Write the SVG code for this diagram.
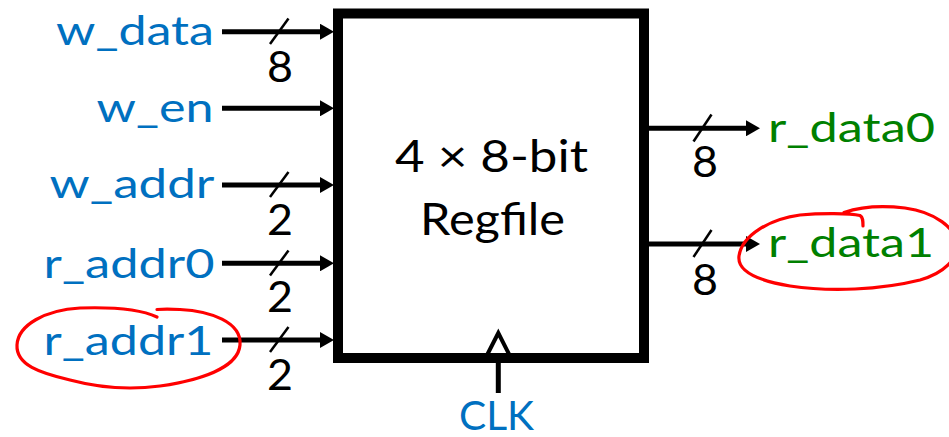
<svg xmlns="http://www.w3.org/2000/svg" width="949" height="437" viewBox="0 0 949 437">
  <style>
    .lbl { font-family: Lato, "Liberation Sans", sans-serif; font-size: 41px; }
    .in { fill: #0070C0; }
    .out { fill: #008000; }
    .num { font-family: Lato, "Liberation Sans", sans-serif; font-size: 42px; fill: #000; }
    .box { font-family: Lato, "Liberation Sans", sans-serif; font-size: 45px; fill: #000; }
    .wire { stroke: #000; stroke-width: 5; fill: none; }
    .slash { stroke: #000; stroke-width: 2.5; fill: none; }
    .ink { stroke: #FF0000; stroke-width: 3.2; fill: none; stroke-linecap: round; stroke-linejoin: round; }
  </style>
  <defs>
    <marker id="arrow" viewBox="0 0 14 16" refX="0" refY="8" markerWidth="14" markerHeight="16" markerUnits="userSpaceOnUse" orient="auto">
      <path d="M0,0 L14,8 L0,16 Z" fill="#000"/>
    </marker>
  </defs>
  <rect width="949" height="437" fill="#fff"/>

  <g id="regfile">
    <rect x="338" y="13.5" width="306" height="344.5" fill="#fff" stroke="#000" stroke-width="10"/>
    <text class="box" x="395" y="171.7" textLength="193" lengthAdjust="spacingAndGlyphs">4 × 8-bit</text>
    <text class="box" x="420" y="235" textLength="145" lengthAdjust="spacingAndGlyphs">Regfile</text>
    <polyline points="483.5,362 498.3,333 513,362" fill="none" stroke="#000" stroke-width="4"/>
  </g>

  <g id="w_data"><text class="lbl in" x="56" y="45" textLength="158" lengthAdjust="spacingAndGlyphs">w_data</text></g>
  <g id="w_en"><text class="lbl in" x="96.5" y="121.7" textLength="117" lengthAdjust="spacingAndGlyphs">w_en</text></g>
  <g id="w_addr"><text class="lbl in" x="49.5" y="198" textLength="165" lengthAdjust="spacingAndGlyphs">w_addr</text></g>
  <g id="r_addr0"><text class="lbl in" x="43.5" y="278.3" textLength="171" lengthAdjust="spacingAndGlyphs">r_addr0</text></g>
  <g id="r_addr1"><text class="lbl in" x="43.5" y="355" textLength="170" lengthAdjust="spacingAndGlyphs">r_addr1</text></g>
  <g id="r_data0"><text class="lbl out" x="768" y="141.7" textLength="167" lengthAdjust="spacingAndGlyphs">r_data0</text></g>
  <g id="r_data1"><text class="lbl out" x="768" y="256.7" textLength="166" lengthAdjust="spacingAndGlyphs">r_data1</text></g>
  <g id="clk"><text class="lbl in" x="459" y="429.5" font-size="42" textLength="75" lengthAdjust="spacingAndGlyphs">CLK</text></g>

  <g id="connectors">
    <line class="wire" x1="222" y1="31.7" x2="320" y2="31.7" marker-end="url(#arrow)"/>
    <line class="wire" x1="222" y1="108.3" x2="320" y2="108.3" marker-end="url(#arrow)"/>
    <line class="wire" x1="222" y1="185" x2="320" y2="185" marker-end="url(#arrow)"/>
    <line class="wire" x1="222" y1="263.3" x2="320" y2="263.3" marker-end="url(#arrow)"/>
    <line class="wire" x1="222" y1="340" x2="320" y2="340" marker-end="url(#arrow)"/>
    <line class="wire" x1="649" y1="128.3" x2="746" y2="128.3" marker-end="url(#arrow)"/>
    <line class="wire" x1="649" y1="244" x2="746" y2="244" marker-end="url(#arrow)"/>
    <line class="wire" x1="498.3" y1="363" x2="498.3" y2="393"/>

    <line class="slash" x1="270" y1="44" x2="288.5" y2="18.5"/>
    <line class="slash" x1="270" y1="197" x2="288.5" y2="172"/>
    <line class="slash" x1="270" y1="275.5" x2="288.5" y2="250.5"/>
    <line class="slash" x1="270" y1="352" x2="288.5" y2="327"/>
    <line class="slash" x1="693.5" y1="141.5" x2="711.5" y2="114.5"/>
    <line class="slash" x1="693.5" y1="257" x2="711.5" y2="230"/>

    <text class="num" x="267" y="81.7" textLength="26" lengthAdjust="spacingAndGlyphs">8</text>
    <text class="num" x="267" y="235" textLength="26" lengthAdjust="spacingAndGlyphs">2</text>
    <text class="num" x="267" y="311.7" textLength="26" lengthAdjust="spacingAndGlyphs">2</text>
    <text class="num" x="267" y="390" textLength="26" lengthAdjust="spacingAndGlyphs">2</text>
    <text class="num" x="692" y="176.7" textLength="26" lengthAdjust="spacingAndGlyphs">8</text>
    <text class="num" x="692" y="295" textLength="26" lengthAdjust="spacingAndGlyphs">8</text>
  </g>

  <g id="annotations">
    <path class="ink" d="M157,317 C140,309 110,307 80,308 C45,310 18,325 17,345 C16,365 40,373 70,380 C100,388 130,390 160,386 C200,380 238,368 240,345 C242,322 210,311 180,309.5 C170,309 163,309 157,309.5"/>
    <path class="ink" d="M863,226 C863,221 863,217 860,215.5 C850,213 820,213 800,215 C770,219 742,235 739,256 C737,272 760,281 790,286 C830,292 880,290 920,280 C945,273 958,258 957,245 C956,228 935,212 905,208 C880,205 860,207 844,212.5"/>
  </g>
</svg>
